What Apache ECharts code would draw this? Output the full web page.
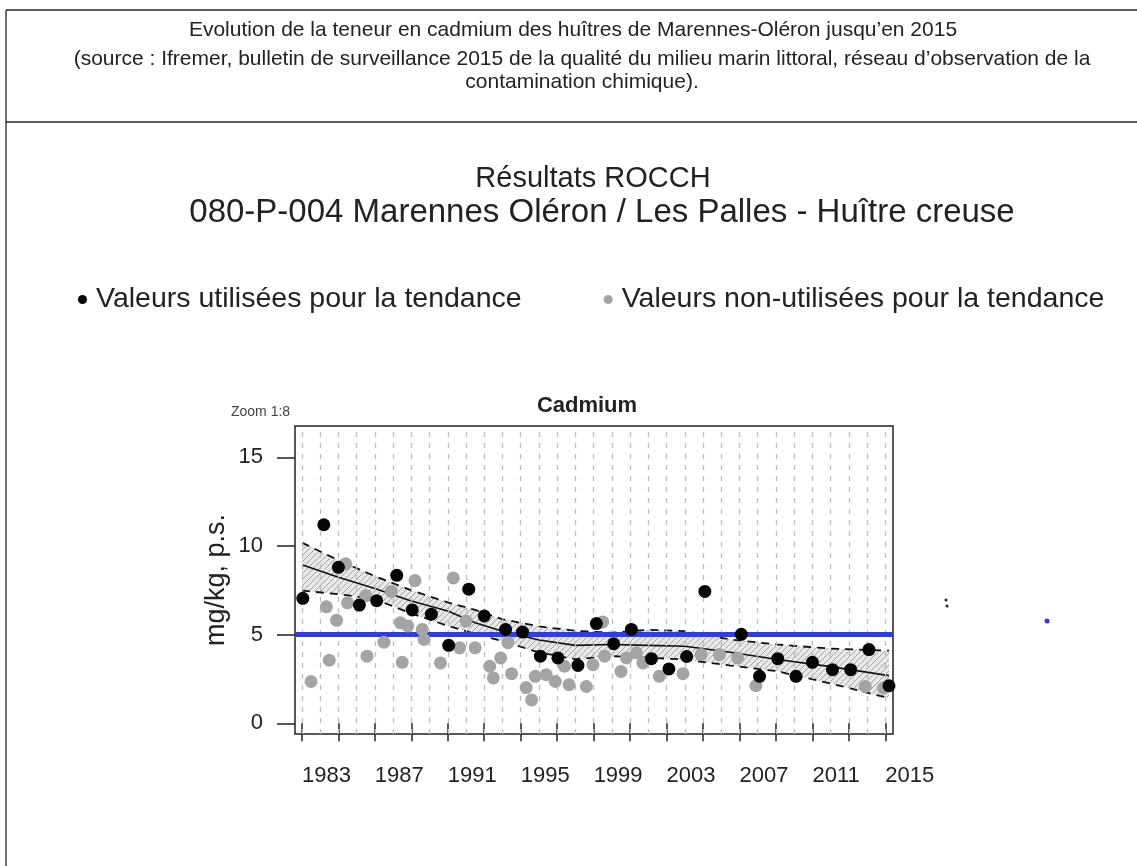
<!DOCTYPE html>
<html>
<head>
<meta charset="utf-8">
<script src="https://cdn.jsdelivr.net/npm/echarts@6/dist/echarts.min.js"></script>
<style>
  html, body { margin: 0; padding: 0; background: #fff; }
  #chart { width: 1137px; height: 866px; }
</style>
</head>
<body>
<div id="chart"></div>
<script>
// valeurs utilisees pour la tendance (points noirs)
var usedYears = [1983.05, 1984.2, 1985.0, 1986.15, 1987.1, 1988.2, 1989.05, 1990.1, 1991.05, 1992.15,
  1993.0, 1994.17, 1995.1, 1996.08, 1997.04, 1998.14, 1999.15, 2000.1, 2001.07, 2002.17,
  2003.13, 2004.1, 2005.1, 2007.1, 2008.1, 2009.1, 2010.1, 2011.0, 2012.1, 2013.1, 2014.1, 2015.2];
var usedValues = [7.05, 11.2, 8.8, 6.67, 6.92, 8.35, 6.4, 6.16, 4.4, 7.57,
  6.06, 5.3, 5.15, 3.79, 3.69, 3.27, 5.63, 4.49, 5.3, 3.65,
  3.07, 3.77, 7.44, 5.02, 2.65, 3.65, 2.65, 3.44, 3.03, 3.03, 4.16, 2.12];

// valeurs non-utilisees (points gris)
var otherYears = [1983.5, 1984.34, 1984.5, 1984.9, 1985.4, 1985.5, 1986.5, 1986.57, 1987.5, 1987.9,
  1988.4, 1988.5, 1988.8, 1989.2, 1989.6, 1989.7, 1990.6, 1991.3, 1991.65, 1992.0,
  1992.5, 1993.3, 1993.5, 1993.9, 1994.3, 1994.5, 1995.3, 1995.6, 1995.8, 1996.4,
  1996.9, 1997.4, 1997.65, 1998.6, 1998.96, 1999.5, 1999.6, 2000.5, 2000.8, 2001.35,
  2001.7, 2002.6, 2003.9, 2004.9, 2005.9, 2006.9, 2007.9, 2013.9, 2014.9];
var otherValues = [2.36, 6.57, 3.56, 5.81, 9.0, 6.8, 7.19, 3.79, 4.58, 7.44,
  5.68, 3.44, 5.49, 8.05, 5.3, 4.73, 3.41, 8.2, 4.26, 5.77,
  4.26, 3.22, 2.56, 3.69, 4.55, 2.8, 2.02, 1.32, 2.65, 2.74,
  2.36, 3.22, 2.18, 2.08, 3.31, 5.72, 3.79, 2.93, 3.69, 3.98,
  3.41, 2.65, 2.8, 3.88, 3.88, 3.69, 2.12, 2.08, 1.99];

// tendance + intervalle de confiance
var trendYears = [1983, 1985, 1987, 1989, 1991, 1992.5, 1994, 1996, 1998, 2000, 2002, 2004, 2006.5, 2009, 2012, 2015.2];
var trendValues = [8.95, 8.24, 7.6, 6.9, 6.34, 5.68, 5.2, 4.7, 4.4, 4.45, 4.4, 4.35, 4.01, 3.62, 3.2, 2.69];
var upperValues = [10.19, 9.2, 8.3, 7.5, 6.82, 6.4, 5.87, 5.47, 5.22, 5.11, 5.28, 5.2, 4.73, 4.45, 4.22, 4.1];
var lowerValues = [7.48, 7.29, 7.0, 6.2, 5.5, 5.05, 4.64, 4.0, 3.62, 3.79, 3.7, 3.6, 3.26, 2.95, 2.25, 1.42];

var threshold = 5;
var gridYears = [];
for (var y = 1983; y <= 2015; y++) gridYears.push(y);
var tickYears = [1983, 1985, 1987, 1989, 1991, 1993, 1995, 1997, 1999, 2001, 2003, 2005, 2007, 2009, 2011, 2013, 2015];
var labelYears = [1983, 1987, 1991, 1995, 1999, 2003, 2007, 2011, 2015];
var yTicks = [0, 5, 10, 15];

function pairs(xs, ys) {
  return xs.map(function (x, i) { return [x, ys[i]]; });
}

// motif hachure
var hatch = document.createElement('canvas');
hatch.width = 6; hatch.height = 6;
var hc = hatch.getContext('2d');
hc.strokeStyle = '#a6a6a6';
hc.lineWidth = 1;
hc.beginPath();
hc.moveTo(0, 6); hc.lineTo(6, 0);
hc.moveTo(-1, 1); hc.lineTo(1, -1);
hc.moveTo(5, 7); hc.lineTo(7, 5);
hc.stroke();

function renderBand(params, api) {
  if (params.dataIndex !== 0) return null;
  var pts = [];
  for (var i = 0; i < trendYears.length; i++) pts.push(api.coord([trendYears[i], upperValues[i]]));
  for (var j = trendYears.length - 1; j >= 0; j--) pts.push(api.coord([trendYears[j], lowerValues[j]]));
  return {
    type: 'group',
    children: [
      { type: 'polygon', shape: { points: pts }, style: { fill: '#e8e8e8' } },
      { type: 'polygon', shape: { points: pts }, style: { fill: { image: hatch, repeat: 'repeat' } } }
    ]
  };
}

var chart = echarts.init(document.getElementById('chart'));
var txt = '#222';
var option = {
  animation: false,
  backgroundColor: '#fff',
  textStyle: { fontFamily: 'Liberation Sans, Arial, sans-serif' },
  title: [
    {
      text: 'Evolution de la teneur en cadmium des huîtres de Marennes-Oléron jusqu’en 2015',
      left: 568, top: 15, textAlign: 'center',
      textStyle: { fontSize: 21, fontWeight: 'normal', color: txt }
    },
    {
      text: '(source : Ifremer, bulletin de surveillance 2015 de la qualité du milieu marin littoral, réseau d’observation de la\ncontamination chimique).',
      left: 577, top: 43, textAlign: 'center',
      textStyle: { fontSize: 21, fontWeight: 'normal', color: txt, lineHeight: 23, align: 'center' }
    },
    {
      text: 'Résultats ROCCH',
      left: 588, top: 159, textAlign: 'center',
      textStyle: { fontSize: 29, fontWeight: 'normal', color: txt }
    },
    {
      text: '080-P-004 Marennes Oléron / Les Palles - Huître creuse',
      left: 597, top: 191, textAlign: 'center',
      textStyle: { fontSize: 33, fontWeight: 'normal', color: txt }
    },
    {
      text: 'Cadmium',
      left: 582, top: 390, textAlign: 'center',
      textStyle: { fontSize: 22, fontWeight: 'bold', color: txt }
    },
    {
      text: 'Zoom 1:8',
      left: 226, top: 400,
      textStyle: { fontSize: 14, fontWeight: 'normal', color: '#444' }
    }
  ],
  legend: {
    left: 73, top: 280,
    itemGap: 82,
    icon: 'circle',
    itemWidth: 9, itemHeight: 9,
    textStyle: { fontSize: 28.5, color: txt, padding: [0, 0, 0, 4] },
    data: ['Valeurs utilisées pour la tendance', 'Valeurs non-utilisées pour la tendance']
  },
  grid: {
    left: 295, top: 426, width: 598, height: 308,
    show: true, borderColor: '#222', borderWidth: 1.5, backgroundColor: 'transparent'
  },
  xAxis: {
    type: 'value', min: 1982.62, max: 2015.42,
    axisLine: { show: false },
    axisTick: { show: true, customValues: tickYears, length: 18, lineStyle: { color: '#222', width: 1.5 } },
    axisLabel: {
      customValues: labelYears, align: 'left', margin: 31, fontSize: 22, color: txt,
      formatter: function (v) { return String(v); }
    },
    splitLine: { show: false }
  },
  yAxis: {
    type: 'value', min: -0.6, max: 16.77,
    name: 'mg/kg, p.s.', nameLocation: 'middle', nameRotate: 90, nameGap: 65,
    nameMoveOverlap: false,
    nameTextStyle: { fontSize: 27, color: txt },
    axisLine: { show: false },
    axisTick: { show: true, customValues: yTicks, length: 18, lineStyle: { color: '#222', width: 1.5 } },
    axisLabel: { customValues: yTicks, margin: 32, fontSize: 22, color: txt },
    splitLine: { show: false }
  },
  series: [
    {
      name: 'grille', type: 'line', data: [], z: 1, silent: true,
      markLine: {
        silent: true, symbol: 'none', label: { show: false },
        lineStyle: { color: '#bdbdbd', type: [5, 6], width: 1.3 },
        data: gridYears.map(function (yr) { return { xAxis: yr }; })
      }
    },
    {
      name: 'ic', type: 'custom', z: 2, silent: true,
      data: trendYears.map(function (x, i) { return [x, upperValues[i], lowerValues[i]]; }),
      encode: { x: 0, y: [1, 2] },
      renderItem: renderBand
    },
    {
      name: 'haut', type: 'line', z: 3, silent: true, data: pairs(trendYears, upperValues),
      symbol: 'none', lineStyle: { color: '#111', width: 1.8, type: [8, 6] }
    },
    {
      name: 'basse', type: 'line', z: 3, silent: true, data: pairs(trendYears, lowerValues),
      symbol: 'none', lineStyle: { color: '#111', width: 1.8, type: [8, 6] }
    },
    {
      name: 'tendance', type: 'line', z: 3, silent: true, data: pairs(trendYears, trendValues),
      symbol: 'none', lineStyle: { color: '#111', width: 1.6 }
    },
    {
      name: 'seuil', type: 'line', data: [], z: 4, silent: true,
      markLine: {
        silent: true, symbol: 'none', label: { show: false },
        lineStyle: { color: '#3240cd', type: 'solid', width: 5 },
        data: [{ yAxis: threshold }]
      }
    },
    {
      name: 'Valeurs non-utilisées pour la tendance', type: 'scatter', z: 5,
      data: pairs(otherYears, otherValues),
      symbol: 'circle', symbolSize: 13,
      itemStyle: { color: '#a4a4a4', opacity: 1 }
    },
    {
      name: 'Valeurs utilisées pour la tendance', type: 'scatter', z: 6,
      data: pairs(usedYears, usedValues),
      symbol: 'circle', symbolSize: 13,
      itemStyle: { color: '#050505', opacity: 1 }
    }
  ],
  graphic: [
    { type: 'line', shape: { x1: 6, y1: 10, x2: 1137, y2: 10 }, style: { stroke: '#222', lineWidth: 1.3 } },
    { type: 'line', shape: { x1: 6, y1: 122, x2: 1137, y2: 122 }, style: { stroke: '#222', lineWidth: 1.3 } },
    { type: 'line', shape: { x1: 6, y1: 10, x2: 6, y2: 866 }, style: { stroke: '#222', lineWidth: 1.3 } },
    { type: 'circle', shape: { cx: 946, cy: 600, r: 1.5 }, style: { fill: '#222' } },
    { type: 'circle', shape: { cx: 947, cy: 606, r: 1.5 }, style: { fill: '#222' } },
    { type: 'circle', shape: { cx: 1047, cy: 621, r: 2.5 }, style: { fill: '#3a3ad0' } }
  ]
};
chart.setOption(option);
</script>
</body>
</html>
